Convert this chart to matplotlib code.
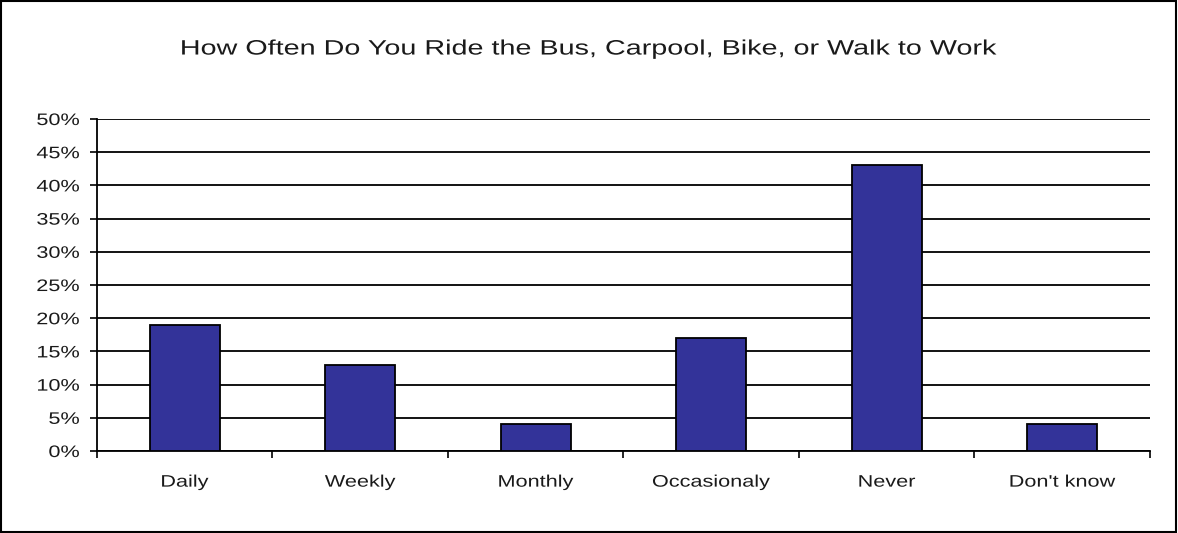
import matplotlib
matplotlib.use("Agg")
import matplotlib.pyplot as plt
from matplotlib.patches import Rectangle
from matplotlib.patheffects import AbstractPathEffect
from matplotlib.transforms import Affine2D
from matplotlib.ticker import FuncFormatter

# データ
categories = ["Daily", "Weekly", "Monthly", "Occasionaly", "Never", "Don't know"]
percents = [19, 13, 4, 17, 43, 4]
y_ticks = [0, 5, 10, 15, 20, 25, 30, 35, 40, 45, 50]
title = "How Often Do You Ride the Bus, Carpool, Bike, or Walk to Work"


class Stretch(AbstractPathEffect):
    """文字を横方向に引き伸ばす（元画像の横長フォント風）"""

    def __init__(self, sx, anchor="center"):
        super().__init__()
        self.sx = sx
        self.anchor = anchor

    def draw_path(self, renderer, gc, tpath, affine, rgbFace=None):
        ext = tpath.get_extents()
        if self.anchor == "right":
            cx = ext.x1
        elif self.anchor == "left":
            cx = ext.x0
        else:
            cx = (ext.x0 + ext.x1) / 2
        t = Affine2D().translate(-cx, 0).scale(self.sx, 1).translate(cx, 0) + affine
        renderer.draw_path(gc, tpath, t, rgbFace)


plt.rcParams["font.family"] = ["Liberation Sans", "DejaVu Sans"]

fig = plt.figure(figsize=(11.78, 5.33), dpi=100)
ax = fig.add_axes([0.0823, 0.1538, 0.8939, 0.6229])

# 外枠
fig.patches.append(Rectangle((0.001, 0.002), 0.997, 0.996, transform=fig.transFigure,
                             fill=False, edgecolor="black", linewidth=1.5))

x = list(range(len(categories)))
ax.bar(x, percents, width=0.4, color="#333399", edgecolor="black", linewidth=1.3, zorder=3)

ax.set_xlim(-0.5, len(categories) - 0.5)
ax.set_ylim(0, 50)
ax.set_yticks(y_ticks)
ax.yaxis.set_major_formatter(FuncFormatter(lambda v, p: f"{int(v)}%"))
ax.yaxis.grid(True, color="black", linewidth=1.3, zorder=0)
ax.set_axisbelow(True)

# 目盛り: 区切りに主目盛り、中央にラベル
ax.set_xticks([i - 0.5 for i in range(len(categories) + 1)])
ax.set_xticklabels([])
ax.set_xticks(x, minor=True)
ax.set_xticklabels(categories, minor=True)
ax.tick_params(axis="x", which="major", direction="out", length=5, width=1.2)
ax.tick_params(axis="x", which="minor", length=0, pad=17, labelsize=12, labelcolor="#1a1a1a")
ax.tick_params(axis="y", direction="out", length=5, width=1.2, pad=7.5, labelsize=12,
               labelcolor="#1a1a1a")

for lab in ax.get_xticklabels(minor=True):
    lab.set_path_effects([Stretch(1.3, "center")])
for lab in ax.get_yticklabels():
    lab.set_path_effects([Stretch(1.3, "right")])

for s in ["top", "right"]:
    ax.spines[s].set_visible(False)
for s in ["left", "bottom"]:
    ax.spines[s].set_linewidth(1.3)

fig.text(0.5, 0.908, title, ha="center", va="center", fontsize=15, color="#1a1a1a",
         path_effects=[Stretch(1.38, "center")])

fig.savefig("out.png", dpi=100)
